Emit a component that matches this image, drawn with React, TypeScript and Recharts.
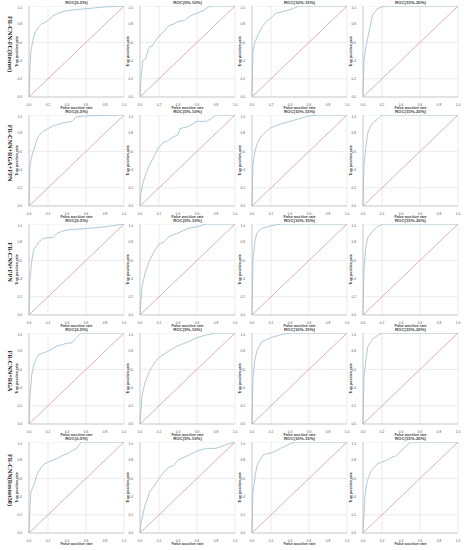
import React from 'react';
import { LineChart, Line, XAxis, YAxis, CartesianGrid } from 'recharts';

// row / column headings
const MODELS = ['FR-CNN-FC(Resnet)', 'FR-CNN+RGA+FPN', 'FR-CNN+FPN', 'FR-CNN+RGA', 'FR-CNN(Resnet50)'];
const BINS = ['ROC(0-5%)', 'ROC(5%-10%)', 'ROC(10%-15%)', 'ROC(15%-20%)'];
const TICKS = [0, 0.2, 0.4, 0.6, 0.8, 1];

// ROC points, [false positive rate, true positive rate]
const FC_RESNET_0_5 = [[0, 0], [0.01, 0.35], [0.02, 0.5], [0.04, 0.62], [0.06, 0.7], [0.1, 0.77], [0.13, 0.8], [0.2, 0.84], [0.25, 0.89], [0.3, 0.92], [0.4, 0.95], [0.5, 0.96], [0.6, 0.97], [0.7, 0.98], [0.8, 0.99], [1, 1]];
const FC_RESNET_5_10 = [[0, 0], [0.01, 0.2], [0.02, 0.3], [0.03, 0.4], [0.06, 0.42], [0.08, 0.5], [0.1, 0.55], [0.13, 0.56], [0.15, 0.6], [0.2, 0.67], [0.25, 0.72], [0.3, 0.78], [0.35, 0.8], [0.4, 0.83], [0.47, 0.84], [0.5, 0.87], [0.55, 0.9], [0.62, 0.93], [0.67, 0.95], [0.72, 0.99], [0.76, 1], [1, 1]];
const FC_RESNET_10_15 = [[0, 0], [0.01, 0.5], [0.03, 0.6], [0.07, 0.7], [0.1, 0.76], [0.15, 0.83], [0.2, 0.87], [0.25, 0.92], [0.3, 0.93], [0.4, 0.96], [0.45, 0.98], [0.5, 1], [1, 1]];
const FC_RESNET_15_20 = [[0, 0], [0.01, 0.4], [0.03, 0.55], [0.05, 0.65], [0.08, 0.8], [0.1, 0.9], [0.15, 0.97], [0.2, 0.99], [0.25, 1], [1, 1]];

const RGA_FPN_0_5 = [[0, 0], [0.01, 0.45], [0.03, 0.55], [0.05, 0.62], [0.08, 0.72], [0.1, 0.77], [0.15, 0.82], [0.2, 0.85], [0.25, 0.88], [0.35, 0.91], [0.45, 0.93], [0.5, 0.98], [0.6, 0.99], [1, 1]];
const RGA_FPN_5_10 = [[0, 0], [0.01, 0.15], [0.03, 0.25], [0.06, 0.35], [0.1, 0.45], [0.15, 0.55], [0.2, 0.65], [0.25, 0.7], [0.3, 0.72], [0.35, 0.76], [0.4, 0.78], [0.42, 0.85], [0.5, 0.87], [0.55, 0.9], [0.6, 0.93], [0.7, 0.93], [0.75, 0.96], [0.8, 1], [1, 1]];
const RGA_FPN_10_15 = [[0, 0], [0.01, 0.45], [0.03, 0.6], [0.06, 0.7], [0.1, 0.77], [0.15, 0.82], [0.2, 0.86], [0.3, 0.9], [0.4, 0.93], [0.5, 0.96], [0.6, 0.99], [0.7, 1], [1, 1]];
const RGA_FPN_15_20 = [[0, 0], [0.01, 0.45], [0.03, 0.65], [0.05, 0.8], [0.08, 0.88], [0.12, 0.93], [0.15, 0.95], [0.2, 1], [1, 1]];

const FPN_0_5 = [[0, 0], [0.01, 0.4], [0.03, 0.6], [0.05, 0.72], [0.08, 0.76], [0.1, 0.8], [0.15, 0.84], [0.2, 0.85], [0.25, 0.85], [0.3, 0.9], [0.35, 0.92], [0.4, 0.935], [0.6, 0.95], [0.8, 0.97], [1, 1]];
const FPN_5_10 = [[0, 0], [0.02, 0.3], [0.05, 0.45], [0.1, 0.6], [0.15, 0.7], [0.2, 0.78], [0.25, 0.8], [0.3, 0.86], [0.4, 0.9], [0.5, 0.95], [0.6, 0.97], [0.7, 1], [1, 1]];
const FPN_10_15 = [[0, 0], [0.01, 0.6], [0.03, 0.8], [0.05, 0.9], [0.1, 0.95], [0.2, 0.98], [0.3, 1], [1, 1]];
const FPN_15_20 = [[0, 0], [0.01, 0.5], [0.03, 0.75], [0.05, 0.85], [0.1, 0.92], [0.15, 0.97], [0.2, 1], [1, 1]];

const RGA_0_5 = [[0, 0], [0.01, 0.3], [0.03, 0.55], [0.05, 0.65], [0.08, 0.72], [0.1, 0.76], [0.15, 0.78], [0.2, 0.8], [0.25, 0.83], [0.3, 0.86], [0.35, 0.87], [0.4, 0.89], [0.45, 0.89], [0.5, 0.95], [0.55, 1], [1, 1]];
const RGA_5_10 = [[0, 0], [0.02, 0.3], [0.05, 0.45], [0.1, 0.58], [0.15, 0.67], [0.2, 0.73], [0.3, 0.8], [0.4, 0.86], [0.5, 0.9], [0.6, 0.95], [0.7, 0.98], [0.8, 1], [1, 1]];
const RGA_10_15 = [[0, 0], [0.01, 0.5], [0.03, 0.7], [0.05, 0.8], [0.1, 0.9], [0.2, 0.95], [0.3, 0.98], [0.4, 1], [1, 1]];
const RGA_15_20 = [[0, 0], [0.01, 0.5], [0.03, 0.7], [0.05, 0.85], [0.1, 0.93], [0.15, 0.97], [0.2, 1], [1, 1]];

const RESNET50_0_5 = [[0, 0], [0.01, 0.3], [0.02, 0.45], [0.04, 0.5], [0.06, 0.55], [0.08, 0.63], [0.1, 0.68], [0.15, 0.75], [0.2, 0.78], [0.25, 0.8], [0.3, 0.82], [0.35, 0.85], [0.4, 0.87], [0.45, 0.9], [0.5, 0.93], [0.55, 1], [1, 1]];
const RESNET50_5_10 = [[0, 0], [0.01, 0.1], [0.03, 0.2], [0.05, 0.3], [0.08, 0.38], [0.1, 0.45], [0.15, 0.52], [0.2, 0.6], [0.25, 0.67], [0.3, 0.72], [0.35, 0.74], [0.4, 0.8], [0.5, 0.85], [0.6, 0.9], [0.7, 0.93], [0.8, 0.93], [0.9, 0.97], [1, 1]];
const RESNET50_10_15 = [[0, 0], [0.01, 0.45], [0.03, 0.6], [0.05, 0.73], [0.08, 0.8], [0.12, 0.86], [0.15, 0.87], [0.2, 0.88], [0.25, 0.9], [0.3, 0.93], [0.4, 0.98], [0.45, 1], [1, 1]];
const RESNET50_15_20 = [[0, 0], [0.01, 0.2], [0.02, 0.4], [0.04, 0.55], [0.06, 0.62], [0.08, 0.67], [0.1, 0.7], [0.15, 0.76], [0.2, 0.78], [0.25, 0.8], [0.3, 0.83], [0.35, 0.85], [0.4, 0.9], [0.45, 0.95], [0.5, 1], [1, 1]];

const CURVES = [
  [FC_RESNET_0_5, FC_RESNET_5_10, FC_RESNET_10_15, FC_RESNET_15_20],
  [RGA_FPN_0_5, RGA_FPN_5_10, RGA_FPN_10_15, RGA_FPN_15_20],
  [FPN_0_5, FPN_5_10, FPN_10_15, FPN_15_20],
  [RGA_0_5, RGA_5_10, RGA_10_15, RGA_15_20],
  [RESNET50_0_5, RESNET50_5_10, RESNET50_10_15, RESNET50_15_20],
];

const DIAGONAL = [{ fpr: 0, tpr: 0 }, { fpr: 1, tpr: 1 }];

const PLOT_LEFT = [29, 140, 252, 363];
const PLOT_TOP = [6, 115, 224, 333, 442];
const PLOT_W = 95;
const PLOT_H = 91;
const AXIS_W = 28;
const SANS = 'Liberation Sans, Arial, sans-serif';

const fmt = (v: number) => v.toFixed(1);

function RocPanel({ points, title, left, top }: { points: number[][]; title: string; left: number; top: number }) {
  const data = points.map(([fpr, tpr]) => ({ fpr, tpr }));
  return (
    <>
      <div
        style={{
          position: 'absolute',
          left,
          top: top - 6,
          width: PLOT_W,
          textAlign: 'center',
          fontFamily: SANS,
          fontSize: 4.3,
          fontWeight: 'bold',
          lineHeight: '5px',
          color: '#444',
        }}
      >
        {title}
      </div>
      <div style={{ position: 'absolute', left: left - AXIS_W, top, fontFamily: SANS }}>
        <LineChart width={AXIS_W + PLOT_W + 3} height={PLOT_H + 12} margin={{ top: 0, right: 3, left: 0, bottom: 0 }}>
          <CartesianGrid stroke="#dedede" strokeWidth={0.6} />
          <XAxis
            type="number"
            dataKey="fpr"
            domain={[0, 1]}
            ticks={TICKS}
            tickFormatter={fmt}
            height={12}
            tickLine={false}
            tickMargin={0.5}
            axisLine={{ stroke: '#bbb', strokeWidth: 0.6 }}
            tick={{ fontSize: 3.2, fill: '#555', fontFamily: SANS }}
            label={{ value: 'False positive rate', position: 'insideBottom', offset: 0, fontSize: 3.7, fontWeight: 'bold', fill: '#444', fontFamily: SANS }}
          />
          <YAxis
            type="number"
            dataKey="tpr"
            domain={[0, 1]}
            ticks={TICKS}
            tickFormatter={fmt}
            width={AXIS_W}
            tickLine={false}
            tickMargin={1}
            axisLine={{ stroke: '#bbb', strokeWidth: 0.6 }}
            tick={{ fontSize: 3.2, fill: '#555', fontFamily: SANS }}
            label={{ value: 'True positive rate', angle: -90, position: 'insideLeft', offset: 16, fontSize: 3.7, fontWeight: 'bold', fill: '#444', fontFamily: SANS, style: { textAnchor: 'middle' } }}
          />
          <Line data={DIAGONAL} dataKey="tpr" stroke="#d98b8b" strokeWidth={0.7} dot={false} isAnimationActive={false} />
          <Line data={data} dataKey="tpr" stroke="#a3c4d6" strokeWidth={0.9} dot={false} isAnimationActive={false} />
        </LineChart>
      </div>
    </>
  );
}

export default function App() {
  return (
    <div style={{ position: 'absolute', left: 0, top: 0, width: 464, height: 550, background: '#fff', overflow: 'hidden' }}>
      {MODELS.map((model, r) => (
        <React.Fragment key={model}>
          <div
            style={{
              position: 'absolute',
              left: 10 - 50,
              top: PLOT_TOP[r] + 38 - 4,
              width: 100,
              height: 8,
              textAlign: 'center',
              transform: 'rotate(90deg)',
              fontFamily: 'Liberation Serif, serif',
              fontWeight: 'bold',
              fontSize: 6.2,
              lineHeight: '8px',
              color: '#111',
            }}
          >
            {model}
          </div>
          {BINS.map((bin, c) => (
            <RocPanel key={bin} points={CURVES[r][c]} title={bin} left={PLOT_LEFT[c]} top={PLOT_TOP[r]} />
          ))}
        </React.Fragment>
      ))}
    </div>
  );
}
